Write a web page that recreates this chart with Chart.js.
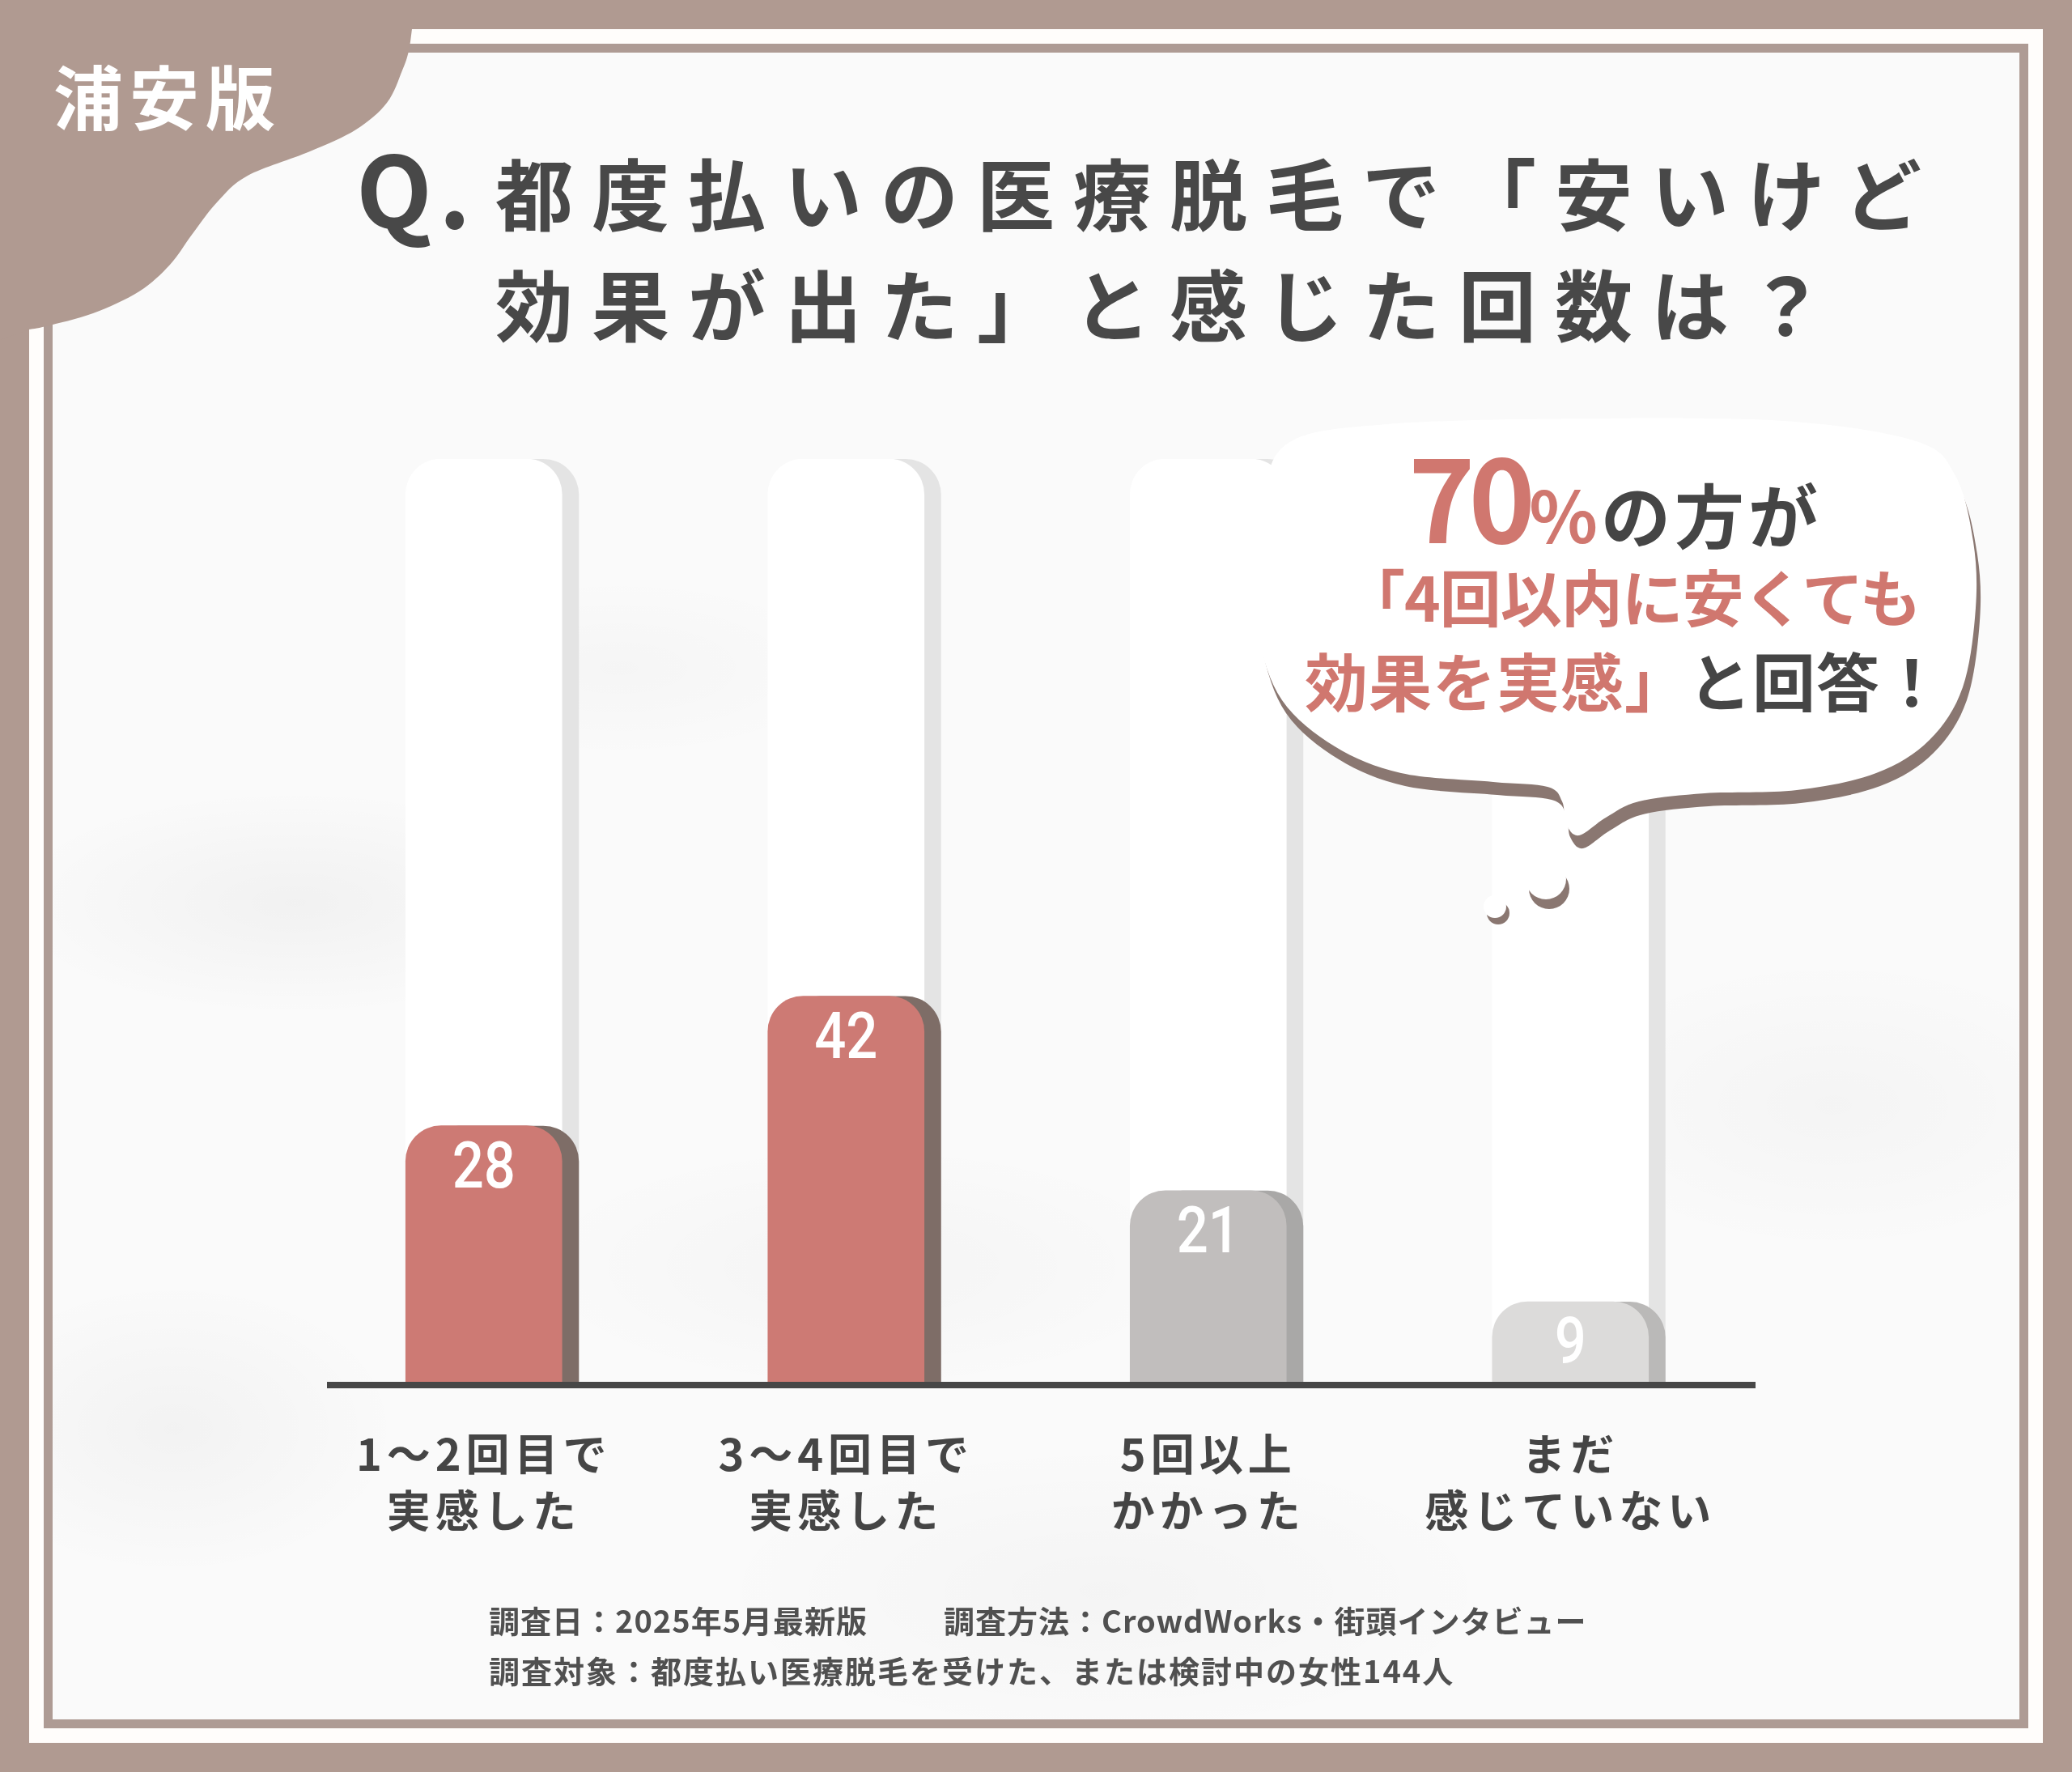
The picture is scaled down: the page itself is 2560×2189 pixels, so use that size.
<!DOCTYPE html>
<html lang="ja">
<head>
<meta charset="UTF-8" />
<title>浦安版 都度払い医療脱毛 効果を実感した回数</title>
<script src="https://cdn.jsdelivr.net/npm/chart.js"></script>
<style>
  html, body { margin: 0; padding: 0; }
  body {
    width: 2560px; height: 2189px; position: relative; overflow: hidden;
    background: #B09A91;
    font-family: "Noto Sans CJK JP", "Noto Sans", sans-serif;
  }
  .abs { position: absolute; }
  #outer { left: 36px; top: 36px; width: 2488px; height: 2117px; background: #FFFDFB; }
  #line { left: 54px; top: 54px; width: 2452px; height: 2081px; background: #AE9B94; }
  #inner {
    left: 65px; top: 65px; width: 2430px; height: 2059px;
    background:
      radial-gradient(ellipse 520px 200px at 300px 1050px, rgba(0,0,0,0.035), transparent 70%),
      radial-gradient(ellipse 420px 160px at 700px 760px, rgba(0,0,0,0.02), transparent 70%),
      radial-gradient(ellipse 600px 220px at 1000px 1500px, rgba(0,0,0,0.025), transparent 70%),
      radial-gradient(ellipse 500px 260px at 2200px 1300px, rgba(0,0,0,0.025), transparent 70%),
      radial-gradient(ellipse 700px 260px at 1300px 1900px, rgba(0,0,0,0.025), transparent 70%),
      radial-gradient(ellipse 400px 260px at 150px 1700px, rgba(0,0,0,0.03), transparent 70%),
      #FAFAFA;
  }
  #deco { left: 0; top: 0; }
  #badge {
    left: 66px; top: 74px; color: #FFFFFF; font-size: 86px; font-weight: 700;
    letter-spacing: 8px; line-height: 1;
  }
  .title {
    color: #484848; font-size: 96px; font-weight: 700; letter-spacing: 23px;
    line-height: 1; white-space: nowrap;
  }
  #q { left: 440px; top: 168px; font-size: 122px; letter-spacing: 8px; }
  #t1 { left: 612px; top: 188px; }
  #t2 { left: 612px; top: 325px; }
  #chartBox { left: 0; top: 0; width: 2560px; height: 2189px; }
  #bubble { left: 0; top: 0; }
  .btxt { white-space: nowrap; line-height: 1; font-weight: 700; }
  .red { color: #D0776F; }
  .dark { color: #454545; }
  #b1 { left: 1740px; top: 540px; display: flex; align-items: baseline; }
  #b1 .n { font-size: 140px; letter-spacing: -8px; }
  #b1 .p { font-size: 88px; margin-right: 4px; }
  #b1 .r { font-size: 86px; letter-spacing: 5px; }
  #b2 { left: 1660px; top: 697px; font-size: 76px; letter-spacing: -1px; }
  #b3 { left: 1612px; top: 800px; font-size: 78px; letter-spacing: 1px; }
  .foot {
    color: #505050; font-size: 38px; font-weight: 700; letter-spacing: 1px;
    white-space: nowrap; line-height: 1;
  }
  #f1 { left: 604px; top: 1982px; }
  #f1b { left: 1166px; top: 1982px; }
  #f2 { left: 604px; top: 2044px; letter-spacing: 2px; }
</style>
</head>
<body>
<div id="outer" class="abs"></div>
<div id="line" class="abs"></div>
<div id="inner" class="abs"></div>

<svg id="deco" class="abs" width="2560" height="2189">
  <path id="blob" fill="#B09A91" d="" />
</svg>
<div id="badge" class="abs">浦安版</div>

<div id="q" class="abs title">Q.</div>
<div id="t1" class="abs title">都度払いの医療脱毛で「安いけど</div>
<div id="t2" class="abs title">効果が出た」と感じた回数は？</div>

<div id="chartBox" class="abs"><canvas id="barChart"></canvas></div>

<svg id="bubble" class="abs" width="2560" height="2189">
  <path id="bubShadow" fill="#8A7771" d="" transform="translate(5,16)" />
  <path id="bubFace" fill="#FFFFFF" d="" />
  <circle cx="1851" cy="1128" r="14" fill="#8A7771" />
  <circle cx="1847" cy="1120" r="14" fill="#FFFFFF" />
  <circle cx="1914" cy="1098" r="25" fill="#8A7771" />
  <circle cx="1910" cy="1086" r="25" fill="#FFFFFF" />
</svg>

<div id="b1" class="abs btxt"><span class="n red">70</span><span class="p red">%</span><span class="r dark">の方が</span></div>
<div id="b2" class="abs btxt red">「4回以内に安くても</div>
<div id="b3" class="abs btxt"><span class="red">効果を実感」</span><span class="dark">と回答！</span></div>

<div id="f1" class="abs foot">調査日：2025年5月最新版</div>
<div id="f1b" class="abs foot">調査方法：CrowdWorks・街頭インタビュー</div>
<div id="f2" class="abs foot">調査対象：都度払い医療脱毛を受けた、または検討中の女性144人</div>

<script>
  // データ
  const categories = [
    ["1〜2回目で", "実感した"],
    ["3〜4回目で", "実感した"],
    ["5回以上", "かかった"],
    ["まだ", "感じていない"],
  ];
  const counts = [28, 42, 21, 9];
  const trackValues = [100, 100, 100, 100];

  const barColors = ["#CD7A74", "#CD7A74", "#C1BEBD", "#DCDBDA"];
  const barShadowColors = ["#7E6D67", "#7E6D67", "#A9A8A7", "#BAB9B8"];
  const trackColor = "#FFFFFF";
  const trackShadowColor = "#E4E4E4";

  // なめらかなパス (装飾用)
  function smoothPath(pts, closed) {
    const n = pts.length;
    const get = (i) => closed ? pts[(i + n) % n] : pts[Math.max(0, Math.min(n - 1, i))];
    let d = "M" + pts[0][0] + "," + pts[0][1];
    const last = closed ? n : n - 1;
    for (let i = 0; i < last; i++) {
      const p0 = get(i - 1), p1 = get(i), p2 = get(i + 1), p3 = get(i + 2);
      const c1x = p1[0] + (p2[0] - p0[0]) / 6, c1y = p1[1] + (p2[1] - p0[1]) / 6;
      const c2x = p2[0] - (p3[0] - p1[0]) / 6, c2y = p2[1] - (p3[1] - p1[1]) / 6;
      d += " C" + c1x + "," + c1y + " " + c2x + "," + c2y + " " + p2[0] + "," + p2[1];
    }
    return d;
  }

  // 左上の飾り
  const blobEdge = [[509, 36], [505, 63], [497, 87], [478, 127], [440, 160], [383, 187],
    [306, 217], [268, 250], [237, 290], [210, 327], [172, 360], [115, 387], [57, 403], [36, 407]];
  document.getElementById("blob").setAttribute("d",
    "M0,0 L509,0 " + smoothPath(blobEdge, false).replace(/^M/, "L") + " L0,420 Z");

  // 吹き出し
  const bubblePts = [[1592, 547], [1714, 524], [1959, 517], [2204, 520], [2367, 545], [2416, 588],
    [2438, 669], [2441, 751], [2425, 849], [2384, 914], [2318, 955], [2220, 976], [2106, 980],
    [2025, 990], [1984, 1010], [1951, 1032], [1935, 1018], [1930, 990], [1912, 972], [1845, 966],
    [1731, 955], [1649, 922], [1584, 865], [1554, 784], [1548, 702], [1559, 620]];
  const bd = smoothPath(bubblePts, true) + " Z";
  document.getElementById("bubFace").setAttribute("d", bd);
  document.getElementById("bubShadow").setAttribute("d", bd);

  // 右側の影・数値ラベル・軸線
  const SHADOW_DX = 21;
  function roundTop(ctx, x, y, w, h, r) {
    r = Math.min(r, w / 2, h);
    ctx.beginPath();
    ctx.moveTo(x, y + h);
    ctx.lineTo(x, y + r);
    ctx.arcTo(x, y, x + r, y, r);
    ctx.lineTo(x + w - r, y);
    ctx.arcTo(x + w, y, x + w, y + r, r);
    ctx.lineTo(x + w, y + h);
    ctx.closePath();
  }

  Chart.register({
    id: "side-shadow",
    beforeDraw(chart) {
      chart.ctx.letterSpacing = "6px";
    },
    beforeDatasetDraw(chart, args) {
      const { ctx } = chart;
      const ds = chart.data.datasets[args.index];
      ctx.save();
      args.meta.data.forEach((bar, i) => {
        const p = bar.getProps(["x", "y", "base", "width"], true);
        ctx.fillStyle = Array.isArray(ds.shadowColor) ? ds.shadowColor[i] : ds.shadowColor;
        roundTop(ctx, p.x - p.width / 2 + SHADOW_DX, p.y, p.width, p.base - p.y, 44);
        ctx.fill();
      });
      ctx.restore();
    },
    afterDatasetsDraw(chart) {
      const { ctx, chartArea } = chart;
      const meta = chart.getDatasetMeta(0);
      ctx.save();
      // 軸線
      ctx.fillStyle = "#474747";
      ctx.fillRect(chartArea.left + 30, chartArea.bottom - 4, chartArea.right - chartArea.left - 25, 8);
      // 数値
      ctx.letterSpacing = "0px";
      ctx.fillStyle = "#FFFFFF";
      ctx.font = "500 80px Roboto";
      ctx.textAlign = "center";
      ctx.textBaseline = "middle";
      meta.data.forEach((bar, i) => {
        const p = bar.getProps(["x", "y"], true);
        ctx.save();
        ctx.translate(p.x, p.y + 56);
        ctx.scale(0.86, 1);
        ctx.fillText(String(counts[i]), 0, 0);
        ctx.restore();
      });
      ctx.restore();
    },
    afterDraw(chart) {
      chart.ctx.letterSpacing = "0px";
    },
  });

  const ctx = document.getElementById("barChart").getContext("2d");
  const barChart = new Chart(ctx, {
    type: "bar",
    data: {
      labels: categories,
      datasets: [
        {
          label: "回答数",
          data: counts,
          backgroundColor: barColors,
          shadowColor: barShadowColors,
          borderRadius: { topLeft: 44, topRight: 44 },
          borderSkipped: "start",
          barThickness: 193,
          grouped: false,
          order: 1,
        },
        {
          label: "track",
          data: trackValues,
          backgroundColor: trackColor,
          shadowColor: trackShadowColor,
          borderRadius: { topLeft: 44, topRight: 44 },
          borderSkipped: "start",
          barThickness: 193,
          grouped: false,
          order: 2,
        },
      ],
    },
    options: {
      responsive: true,
      maintainAspectRatio: false,
      devicePixelRatio: 1,
      animation: false,
      layout: { padding: { left: 374, right: 396, top: 567, bottom: 278 } },
      plugins: { legend: { display: false }, tooltip: { enabled: false } },
      scales: {
        x: {
          grid: { display: false, drawTicks: false, tickLength: 0 },
          border: { display: false },
          ticks: {
            color: "#454545",
            padding: 50,
            font: { family: "'Noto Sans CJK JP'", size: 54, weight: "700", lineHeight: 1.3 },
            maxRotation: 0,
            autoSkip: false,
          },
          afterFit: (scale) => { scale.height = 200; },
        },
        y: {
          display: false,
          min: 0,
          max: 100,
        },
      },
    },
  });
</script>
</body>
</html>
